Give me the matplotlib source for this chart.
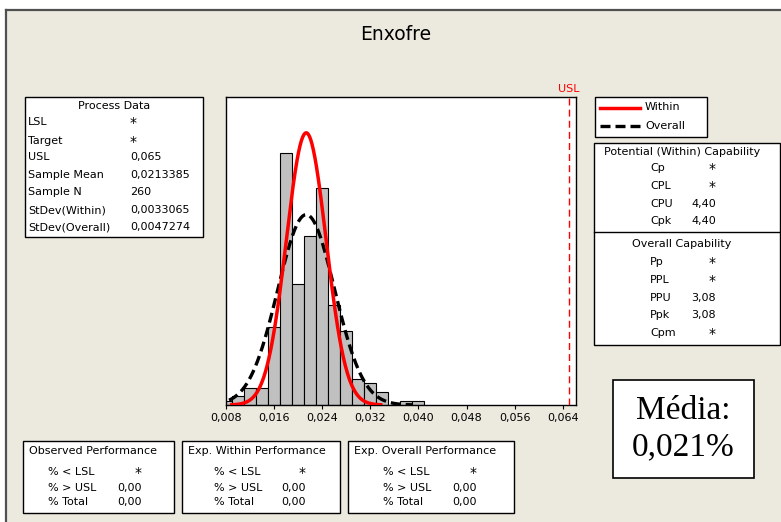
import matplotlib
matplotlib.use("Agg")
import matplotlib.pyplot as plt
import numpy as np
from matplotlib.patches import Rectangle
from matplotlib.lines import Line2D

# histogram counts (bin midpoints, bin width 0.002)
bin_mids = [0.008, 0.010, 0.012, 0.014, 0.016, 0.018, 0.020, 0.022, 0.024,
            0.026, 0.028, 0.030, 0.032, 0.034, 0.036, 0.038, 0.040]
counts = [1, 2, 4, 4, 18, 58, 28, 39, 50, 23, 17, 6, 5, 3, 0, 1, 1]
bin_width = 0.002

# process data
usl = 0.065
mean = 0.0213385
n_sample = 260
sd_within = 0.0033065
sd_overall = 0.0047274

xticks = [0.008, 0.016, 0.024, 0.032, 0.040, 0.048, 0.056, 0.064]
xtick_labels = ["0,008", "0,016", "0,024", "0,032", "0,040", "0,048", "0,056", "0,064"]

process_labels = ["LSL", "Target", "USL", "Sample Mean", "Sample N",
                  "StDev(Within)", "StDev(Overall)"]
process_values = ["*", "*", "0,065", "0,0213385", "260", "0,0033065", "0,0047274"]

within_labels = ["Cp", "CPL", "CPU", "Cpk"]
within_values = ["*", "*", "4,40", "4,40"]
overall_labels = ["Pp", "PPL", "PPU", "Ppk", "Cpm"]
overall_values = ["*", "*", "3,08", "3,08", "*"]

perf_titles = ["Observed Performance", "Exp. Within Performance", "Exp. Overall Performance"]
perf_labels = ["% < LSL", "% > USL", "% Total"]
perf_values = [["*", "0,00", "0,00"], ["*", "0,00", "0,00"], ["*", "0,00", "0,00"]]

W, H = 781, 522
BG = "#ECE9DF"
FS = 8
DASH = (0, (3, 1.5))

fig = plt.figure(figsize=(W / 100, H / 100), dpi=100)
fig.patch.set_facecolor("white")


def fx(x):
    return x / W


def fy(y):
    return 1 - y / H


def box(x0, y0, x1, y1, lw=1.0):
    fig.add_artist(Rectangle((fx(x0), fy(y1)), fx(x1) - fx(x0), fy(y0) - fy(y1),
                             transform=fig.transFigure, facecolor="white",
                             edgecolor="black", lw=lw))


def txt(x, y, s, ha="left", **kw):
    kw.setdefault("fontsize", FS)
    fig.text(fx(x), fy(y), s, ha=ha, va="center", **kw)


def val_txt(x, y, s):
    # Minitab's asterisk sits high and is larger than the digits
    if s == "*":
        txt(x, y + 1, s, ha="right", fontsize=10)
    else:
        txt(x, y, s, ha="right")


# window background with dark top/left edge
fig.add_artist(Rectangle((fx(6), -0.05), 1.1, fy(10) + 0.05, transform=fig.transFigure,
                         facecolor=BG, edgecolor="none", zorder=-10, clip_on=False))
fig.add_artist(Line2D([fx(6), 1.05], [fy(10), fy(10)], transform=fig.transFigure,
                      color="#505050", lw=1.6, zorder=-9))
fig.add_artist(Line2D([fx(6), fx(6)], [-0.05, fy(10)], transform=fig.transFigure,
                      color="#505050", lw=1.6, zorder=-9))

txt(396, 34, "Enxofre", ha="center", fontsize=13.5)

# main histogram
ax = fig.add_axes([fx(226), fy(405), fx(576) - fx(226), fy(97) - fy(405)])
ax.set_facecolor("white")
ax.bar(bin_mids, counts, width=bin_width, color="#C0C0C0", edgecolor="black",
       lw=0.8, zorder=2)

scale = n_sample * bin_width
xw = np.linspace(mean - 3.75 * sd_within, mean + 3.75 * sd_within, 300)
yw = scale * np.exp(-0.5 * ((xw - mean) / sd_within) ** 2) / (sd_within * np.sqrt(2 * np.pi))
xo = np.linspace(mean - 3.75 * sd_overall, mean + 3.75 * sd_overall, 300)
yo = scale * np.exp(-0.5 * ((xo - mean) / sd_overall) ** 2) / (sd_overall * np.sqrt(2 * np.pi))
ax.plot(xw, yw, color="red", lw=2.5, zorder=4)
ax.plot(xo, yo, color="black", lw=2.4, linestyle=DASH, zorder=3)
ax.axvline(usl, color="red", lw=1.0, linestyle=(0, (5, 3)), zorder=3)

ax.set_xlim(0.008, 0.0662)
ax.set_ylim(0, 71)
ax.set_yticks([])
ax.set_xticks(xticks)
ax.set_xticklabels(xtick_labels, fontsize=FS)
ax.tick_params(axis="x", direction="out", length=3, width=0.8, pad=3)
for sp in ax.spines.values():
    sp.set_linewidth(1.0)
ax.text(usl, 1.01, "USL", color="red", fontsize=FS, ha="center", va="bottom",
        transform=ax.get_xaxis_transform())

# process data box
box(25, 97, 203, 237)
txt(114, 106, "Process Data", ha="center")
rows_y = [122, 141, 157, 175, 192, 210, 227]
for lab, val, y in zip(process_labels, process_values, rows_y):
    txt(28, y, lab)
    if val == "*":
        txt(130, y + 1, val, fontsize=10)
    else:
        txt(130, y, val)

# legend box
box(595, 97, 707, 137)
fig.add_artist(Line2D([fx(600), fx(640)], [fy(108), fy(108)], transform=fig.transFigure,
                      color="red", lw=2.5))
fig.add_artist(Line2D([fx(600), fx(640)], [fy(126), fy(126)], transform=fig.transFigure,
                      color="black", lw=2.4, linestyle=DASH))
txt(645, 107, "Within")
txt(645, 126, "Overall")

# capability box
box(594, 143, 780, 345)
fig.add_artist(Line2D([fx(594), fx(780)], [fy(232), fy(232)], transform=fig.transFigure,
                      color="black", lw=1.0))
txt(682, 152, "Potential (Within) Capability", ha="center")
for lab, val, y in zip(within_labels, within_values, [168, 186, 204, 221]):
    txt(650, y, lab)
    val_txt(716, y, val)
txt(682, 244, "Overall Capability", ha="center")
for lab, val, y in zip(overall_labels, overall_values, [262, 280, 298, 315, 333]):
    txt(650, y, lab)
    val_txt(716, y, val)

# mean annotation box
box(613, 380, 754, 478, lw=1.2)
txt(683, 411, "Média:", ha="center", fontsize=24, family="Liberation Serif")
txt(683, 447, "0,021%", ha="center", fontsize=24, family="Liberation Serif")

# performance boxes
perf_boxes = [(23, 174, 48, 142), (182, 340, 214, 306), (348, 514, 383, 477)]
for (x0, x1, lx, vx), title, vals in zip(perf_boxes, perf_titles, perf_values):
    box(x0, 441, x1, 513)
    txt(x0 + 6, 451, title)
    for lab, val, y in zip(perf_labels, vals, [472, 488, 502]):
        txt(lx, y, lab)
        val_txt(vx, y, val)

fig.savefig("out.png", dpi=100, facecolor=fig.get_facecolor())
